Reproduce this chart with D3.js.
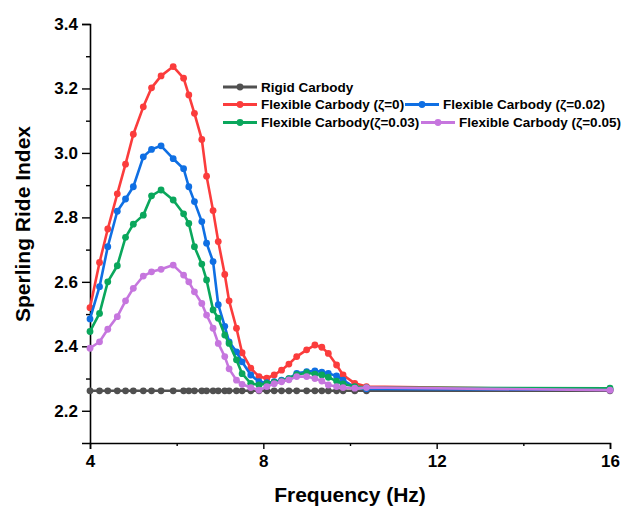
<!DOCTYPE html>
<html>
<head>
<meta charset="utf-8">
<script src="https://cdn.jsdelivr.net/npm/d3@7"></script>
<style>
  body { margin: 0; background: #fff; }
  text { font-family: "Liberation Sans", Arial, sans-serif; font-weight: bold; }
</style>
</head>
<body>
<div id="chart"></div>
<script>
// frequencies shared by all series (Hz)
const freq = [4.00, 4.22, 4.41, 4.63, 4.82, 5.00, 5.23, 5.42, 5.64, 5.92, 6.16, 6.28, 6.41, 6.58, 6.69, 6.84, 6.96,
              7.11, 7.21, 7.38, 7.51, 7.71, 7.90, 8.08, 8.25, 8.42, 8.59, 8.77, 9.00, 9.19, 9.35, 9.50, 9.69, 9.84,
              10.11, 10.38, 16.00];

const rigid = [2.262, 2.262, 2.262, 2.262, 2.262, 2.262, 2.262, 2.262, 2.262, 2.262, 2.262, 2.262, 2.262, 2.262,
               2.262, 2.262, 2.262, 2.262, 2.262, 2.262, 2.262, 2.262, 2.262, 2.262, 2.262, 2.262, 2.262, 2.262,
               2.262, 2.262, 2.262, 2.262, 2.262, 2.262, 2.262, 2.262, 2.262];
const flex0 = [2.520, 2.660, 2.764, 2.873, 2.965, 3.058, 3.143, 3.202, 3.239, 3.268, 3.232, 3.180, 3.123, 3.042,
               2.928, 2.821, 2.725, 2.623, 2.541, 2.456, 2.380, 2.332, 2.306, 2.301, 2.311, 2.326, 2.345, 2.368,
               2.389, 2.404, 2.397, 2.378, 2.342, 2.311, 2.285, 2.275, 2.265];
const flex002 = [2.485, 2.585, 2.709, 2.819, 2.857, 2.895, 2.988, 3.011, 3.022, 2.982, 2.951, 2.895, 2.849, 2.787,
                 2.720, 2.663, 2.529, 2.462, 2.414, 2.383, 2.352, 2.311, 2.290, 2.287, 2.290, 2.295, 2.300, 2.316,
                 2.321, 2.324, 2.320, 2.316, 2.308, 2.295, 2.273, 2.268, 2.265];
const flex003 = [2.446, 2.502, 2.600, 2.650, 2.738, 2.779, 2.807, 2.867, 2.885, 2.854, 2.811, 2.781, 2.709, 2.655,
                 2.606, 2.513, 2.487, 2.435, 2.409, 2.358, 2.315, 2.285, 2.280, 2.285, 2.288, 2.293, 2.300, 2.312,
                 2.318, 2.314, 2.311, 2.304, 2.292, 2.283, 2.275, 2.272, 2.270];
const flex005 = [2.394, 2.414, 2.453, 2.492, 2.541, 2.580, 2.618, 2.631, 2.639, 2.652, 2.621, 2.600, 2.569, 2.533,
                 2.497, 2.456, 2.409, 2.368, 2.330, 2.295, 2.282, 2.272, 2.264, 2.275, 2.284, 2.290, 2.296, 2.306,
                 2.306, 2.300, 2.292, 2.280, 2.275, 2.272, 2.270, 2.272, 2.264];

const seriesNames = ["Rigid Carbody", "Flexible Carbody (ζ=0)", "Flexible Carbody (ζ=0.02)",
                     "Flexible Carbody(ζ=0.03)", "Flexible Carbody (ζ=0.05)"];
const seriesColors = ["#505050", "#fb3c3c", "#0f6fe3", "#0aa75c", "#c676de"];
const seriesValues = [rigid, flex0, flex002, flex003, flex005];

const xTicks = [4, 8, 12, 16];
const xMinor = [6, 10, 14];
const yTicks = [2.2, 2.4, 2.6, 2.8, 3.0, 3.2, 3.4];
const yMinor = [2.3, 2.5, 2.7, 2.9, 3.1, 3.3];

const width = 622, height = 510;
const svg = d3.select('#chart').append('svg')
    .attr('width', width)
    .attr('height', height);

const x = d3.scaleLinear().domain([4, 16]).range([90, 610]);
const y = d3.scaleLinear().domain([2.1, 3.4]).range([443, 24]);

// axes
const xAxis = svg.append('g')
    .attr('transform', 'translate(0,443)')
    .call(d3.axisBottom(x).tickValues(xTicks).tickSize(6).tickPadding(6).tickFormat(d3.format('d')));
svg.append('g')
    .attr('transform', 'translate(0,443)')
    .call(d3.axisBottom(x).tickValues(xMinor).tickSize(3).tickFormat(''))
    .select('.domain').remove();

const yAxis = svg.append('g')
    .attr('transform', 'translate(90,0)')
    .call(d3.axisLeft(y).tickValues(yTicks).tickSize(8).tickPadding(4).tickFormat(d3.format('.1f')));
svg.append('g')
    .attr('transform', 'translate(90,0)')
    .call(d3.axisLeft(y).tickValues(yMinor).tickSize(4).tickFormat(''))
    .select('.domain').remove();

svg.selectAll('.domain').attr('stroke', '#000').attr('stroke-width', 1.6);
svg.selectAll('.tick line').attr('stroke', '#000').attr('stroke-width', 1.4);
svg.selectAll('.tick text')
    .attr('fill', '#000')
    .style('font-size', '17px')
    .style('font-weight', 'bold')
    .style('font-family', '"Liberation Sans", Arial, sans-serif');

// axis titles
svg.append('text')
    .attr('x', 350)
    .attr('y', 502)
    .attr('text-anchor', 'middle')
    .style('font-size', '21px')
    .text('Frequency (Hz)');

svg.append('text')
    .attr('transform', 'translate(30,224) rotate(-90)')
    .attr('text-anchor', 'middle')
    .style('font-size', '21px')
    .text('Sperling Ride Index');

// lines
const line = d3.line()
    .x(function(d) { return x(d[0]); })
    .y(function(d) { return y(d[1]); });

seriesValues.forEach(function(vals, i) {
    const pts = freq.map(function(f, j) { return [f, vals[j]]; });
    const g = svg.append('g');
    g.append('path')
        .datum(pts)
        .attr('d', line)
        .attr('fill', 'none')
        .attr('stroke', seriesColors[i])
        .attr('stroke-width', 2.6)
        .attr('stroke-linejoin', 'round');
    g.selectAll('circle')
        .data(pts)
        .enter()
        .append('circle')
        .attr('cx', function(d) { return x(d[0]); })
        .attr('cy', function(d) { return y(d[1]); })
        .attr('r', 3.4)
        .attr('fill', seriesColors[i]);
});

// legend
const legendPos = [[223, 87], [223, 104.5], [405, 104.5], [223, 122.5], [421, 122.5]];
seriesNames.forEach(function(name, i) {
    const lg = svg.append('g').attr('transform', 'translate(' + legendPos[i][0] + ',' + legendPos[i][1] + ')');
    lg.append('line')
        .attr('x1', 0).attr('x2', 34)
        .attr('stroke', seriesColors[i])
        .attr('stroke-width', 2.8);
    lg.append('circle')
        .attr('cx', 17).attr('r', 3.4)
        .attr('fill', seriesColors[i]);
    lg.append('text')
        .attr('x', 38)
        .attr('dy', '0.35em')
        .style('font-size', '13.5px')
        .attr('fill', '#000')
        .text(name);
});
</script>
</body>
</html>
